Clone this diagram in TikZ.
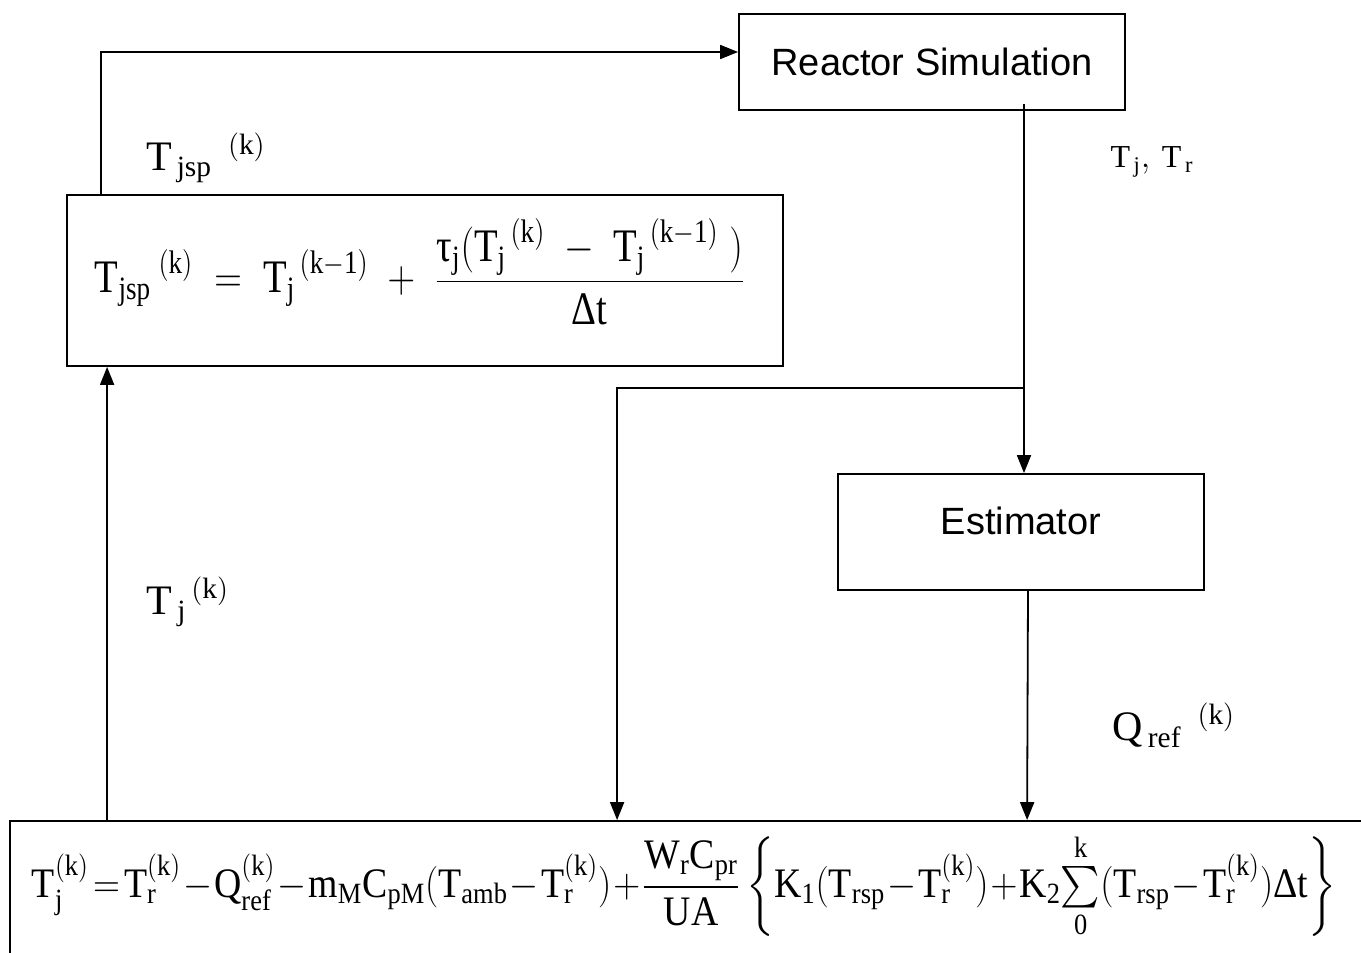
\documentclass[tikz,border=0pt]{standalone}
\usepackage{amsmath}
\usepackage{graphicx}
\usepackage{fontspec}
\setmainfont{Liberation Serif}
\newfontfamily\arialf{Liberation Sans}
\usetikzlibrary{arrows.meta,calc}
\begin{document}
\begin{tikzpicture}[x=0.5pt,y=-0.5pt,line width=0.9pt,
  box/.style={draw,line width=0.9pt,inner sep=0pt},
  sans/.style={font=\arialf\fontsize{19}{22}\selectfont},
  lbl/.style={font=\fontsize{21}{24}\selectfont,inner sep=0pt},
  arr/.style={-{Triangle[length=9pt,width=7pt]}}]
\path[use as bounding box] (0,0) rectangle (1361,953);
% boxes
\node[box,sans,minimum width=193pt,minimum height=48pt] (rs) at (932,62) {Reactor Simulation};
\node[box,minimum width=183pt,minimum height=58pt] (est) at (1021,532) {};
\node[sans] (estl) at (1021,521) {Estimator};
\node[box,minimum width=358pt,minimum height=85.5pt] (eqt) at (425,280.5) {};
\node[lbl] (eqtl) at (420,272) {\resizebox*{325pt}{53pt}{$\displaystyle \mathrm{{T_{jsp}}^{\;(k)} \;=\; {T_j}^{\,(k-1)} \;+\; \frac{\text{τ}_{j}({T_j}^{\,(k)} \;-\; {T_j}^{\,(k-1)}\;)}{\text{Δt}}}$}};
\node[box,minimum width=680pt,minimum height=69.5pt] (eqb) at (690,890.5) {};
\node[lbl,font=\fontsize{21}{24}\selectfont] (eqbl) at (684,886) {\resizebox{652pt}{\height}{\medmuskip=1mu\thickmuskip=2mu$\displaystyle \mathrm{T_j^{(k)}=T_r^{(k)}-Q_{ref}^{(k)}-m_MC_{pM}(T_{amb}-T_r^{(k)})+\frac{W_rC_{pr}}{UA}}\left\{\mathrm{K_1(T_{rsp}-T_r^{(k)})+K_2{\textstyle\sum\limits_0^k}(T_{rsp}-T_r^{(k)})}\text{Δt}\right\}$}};
% labels
\node[lbl] (l1) at (206,158) {$\mathrm{{T_{\,jsp}}^{\;\;(k)}}$};
\node[lbl,font=\fontsize{16}{20}\selectfont] (l2) at (1152,162) {$\mathrm{T_{\,j},\,T_{\,r}}$};
\node[lbl] (l3) at (188,602) {$\mathrm{{T_{\,j}}^{\,(k)}}$};
\node[lbl] (l4) at (1174,725) {$\mathrm{{Q_{\,ref}}^{\;\;(k)}}$};
% connectors
\draw[arr] ($(eqt.north west)+(35,0)$) |- ([yshift=5pt]rs.west);
\draw[arr] ($(eqb.north west)+(98,0)$) -- ($(eqt.south west)+(41,0)$);
\draw[arr] ($(rs.south)+(92,-7)$) -- ($(est.north)+(3,0)$);
\coordinate (br) at (1024,388);
\draw[arr] (br) -| ($(eqb.north west)+(608,0)$);
\draw[arr] ($(est.south)+(7,0)$) -- ($(eqb.north west)+(1018,0)$);
\end{tikzpicture}
\end{document}
